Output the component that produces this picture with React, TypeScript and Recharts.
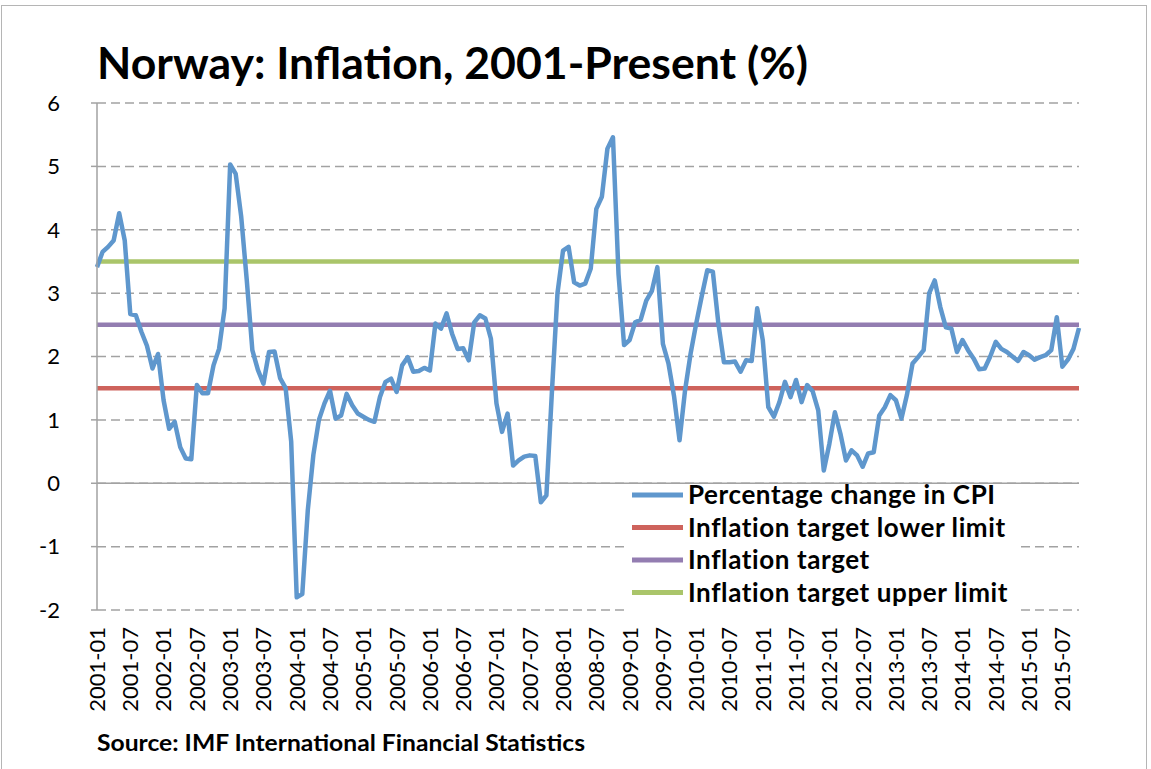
import React from 'react';
import { LineChart, Line, XAxis, YAxis, CartesianGrid, ReferenceLine, Legend } from 'recharts';

// ---- data ----
const START_YEAR = 2001;
const CPI_VALUES: number[] = [
  3.41, 3.65, 3.73, 3.83, 4.26, 3.83, 2.67, 2.65, 2.39, 2.17, 1.81, 2.04,
  1.31, 0.86, 0.97, 0.57, 0.39, 0.38, 1.55, 1.42, 1.42, 1.86, 2.12, 2.76,
  5.03, 4.88, 4.2, 3.2, 2.1, 1.79, 1.57, 2.07, 2.08, 1.66, 1.5, 0.66,
  -1.8, -1.75, -0.42, 0.45, 1.0, 1.26, 1.46, 1.02, 1.07, 1.41, 1.23, 1.1,
  1.05, 1.0, 0.97, 1.36, 1.6, 1.65, 1.44, 1.86, 1.99, 1.76, 1.77, 1.82,
  1.78, 2.52, 2.44, 2.68, 2.36, 2.12, 2.13, 1.94, 2.54, 2.65, 2.6, 2.28,
  1.26, 0.81, 1.1, 0.28, 0.36, 0.42, 0.44, 0.43, -0.3, -0.19, 1.45, 3.0,
  3.67, 3.73, 3.17, 3.12, 3.15, 3.39, 4.33, 4.52, 5.28, 5.46, 3.3, 2.18,
  2.26, 2.54, 2.58, 2.88, 3.03, 3.41, 2.2, 1.89, 1.38, 0.68, 1.47, 2.05,
  2.52, 2.95, 3.36, 3.34, 2.52, 1.91, 1.91, 1.92, 1.76, 1.94, 1.93, 2.76,
  2.26, 1.2, 1.05, 1.28, 1.6, 1.36, 1.63, 1.28, 1.55, 1.45, 1.15, 0.2,
  0.62, 1.12, 0.78, 0.36, 0.52, 0.44, 0.26, 0.47, 0.49, 1.07, 1.2, 1.39,
  1.31, 1.02, 1.4, 1.89, 1.99, 2.1, 3.0, 3.2, 2.78, 2.46, 2.44, 2.07,
  2.26, 2.1, 1.97, 1.8, 1.81, 2.0, 2.23, 2.12, 2.07, 2.0, 1.93, 2.07,
  2.02, 1.95, 1.99, 2.02, 2.1, 2.62, 1.84, 1.95, 2.12, 2.45,
];
const LOWER_LIMIT = 1.5;
const TARGET = 2.5;
const UPPER_LIMIT = 3.5;
const Y_TICKS = [-2, -1, 0, 1, 2, 3, 4, 5, 6];
const TITLE = 'Norway: Inflation, 2001-Present (%)';
const SOURCE = 'Source: IMF International Financial Statistics';

const MONTH_LABELS = CPI_VALUES.map(
  (_, i) => `${START_YEAR + Math.floor(i / 12)}-${String((i % 12) + 1).padStart(2, '0')}`
);

const SERIES = [
  { key: 'cpi', name: 'Percentage change in CPI', color: '#5F97CD' },
  { key: 'lower', name: 'Inflation target lower limit', color: '#CE635C' },
  { key: 'target', name: 'Inflation target', color: '#937DB1' },
  { key: 'upper', name: 'Inflation target upper limit', color: '#AAC56A' },
];

const data = MONTH_LABELS.map((month, i) => ({
  month,
  cpi: CPI_VALUES[i],
  lower: LOWER_LIMIT,
  target: TARGET,
  upper: UPPER_LIMIT,
}));

const FONT = 'Lato, "Open Sans", sans-serif';
const GRID = '#a2a2a2';

const MonthTick = (props: any) => {
  const { x, y, payload } = props;
  return (
    <g transform={`translate(${x},${y})`}>
      <text
        transform="rotate(-90)"
        x={-17}
        y={0}
        dy="0.36em"
        textAnchor="end"
        fontFamily={FONT}
        fontSize={22}
        fill="#000"
      >
        {payload.value}
      </text>
    </g>
  );
};

const renderLegend = (props: any) => {
  const payload: any[] = props.payload || [];
  const items = SERIES.map((s) => payload.find((p) => p.dataKey === s.key)).filter(Boolean);
  return (
    <svg
      width={392}
      height={127}
      style={{ display: 'block', background: '#fff', overflow: 'visible' }}
    >
      {items.map((p: any, i: number) => {
        const cy = 10 + i * 32.5;
        return (
          <g key={p.value}>
            <line x1={4} x2={55} y1={cy} y2={cy} stroke={p.color} strokeWidth={5} />
            <text
              x={60}
              y={cy}
              dy="0.36em"
              fontFamily={FONT}
              fontWeight="bold"
              fontSize={26}
              letterSpacing={0.6}
              fill="#000"
            >
              {p.value}
            </text>
          </g>
        );
      })}
    </svg>
  );
};

export default function App() {
  return (
    <div
      style={{
        position: 'absolute',
        left: 0,
        top: 0,
        width: 1151,
        height: 769,
        overflow: 'hidden',
        background: '#fff',
      }}
    >
      <div
        style={{
          position: 'absolute',
          left: 1,
          top: 5,
          width: 1146,
          height: 790,
          border: '1px solid #b5b5b5',
          boxSizing: 'border-box',
        }}
      />
      <div style={{ position: 'absolute', left: 0, top: 0 }}>
        <LineChart
          width={1151}
          height={769}
          data={data}
          margin={{ top: 103, right: 72, left: 0, bottom: 49 }}
        >
          <CartesianGrid
            vertical={false}
            stroke={GRID}
            strokeWidth={1.5}
            strokeDasharray="9 5"
          />
          <XAxis
            dataKey="month"
            interval={5}
            height={110}
            axisLine={false}
            tickLine={false}
            tickSize={0}
            tickMargin={0}
            tick={<MonthTick />}
            padding={{ left: 0, right: 0 }}
          />
          <YAxis
            type="number"
            domain={[-2, 6]}
            ticks={Y_TICKS}
            interval={0}
            width={97}
            axisLine={{ stroke: GRID, strokeWidth: 1.5 }}
            tickLine={{ stroke: GRID, strokeWidth: 1.5 }}
            tickSize={6}
            tickMargin={31}
            tick={{ fontSize: 22, fill: '#000', fontFamily: FONT }}
          />
          <ReferenceLine y={0} stroke={GRID} strokeWidth={1.5} />
          <Line
            dataKey="lower"
            name={SERIES[1].name}
            stroke={SERIES[1].color}
            strokeWidth={4.5}
            dot={false}
            activeDot={false}
            isAnimationActive={false}
          />
          <Line
            dataKey="target"
            name={SERIES[2].name}
            stroke={SERIES[2].color}
            strokeWidth={4.5}
            dot={false}
            activeDot={false}
            isAnimationActive={false}
          />
          <Line
            dataKey="upper"
            name={SERIES[3].name}
            stroke={SERIES[3].color}
            strokeWidth={4.5}
            dot={false}
            activeDot={false}
            isAnimationActive={false}
          />
          <Line
            dataKey="cpi"
            name={SERIES[0].name}
            stroke={SERIES[0].color}
            strokeWidth={4.5}
            strokeLinejoin="round"
            dot={false}
            activeDot={false}
            isAnimationActive={false}
          />
          <Legend
            layout="vertical"
            align="center"
            verticalAlign="middle"
            content={renderLegend}
            wrapperStyle={{ position: 'absolute', left: 628, top: 485, width: 392, height: 127 }}
          />
        </LineChart>
      </div>
      <svg
        width={1151}
        height={769}
        style={{ position: 'absolute', left: 0, top: 0, pointerEvents: 'none' }}
      >
        <text
          x={97}
          y={79}
          fontFamily={FONT}
          fontWeight="bold"
          fontSize={44}
          fill="#000"
          textLength={711}
          lengthAdjust="spacingAndGlyphs"
        >
          {TITLE}
        </text>
        <text
          x={97}
          y={751}
          fontFamily={FONT}
          fontWeight="bold"
          fontSize={22}
          fill="#000"
          textLength={488}
          lengthAdjust="spacingAndGlyphs"
        >
          {SOURCE}
        </text>
      </svg>
    </div>
  );
}
